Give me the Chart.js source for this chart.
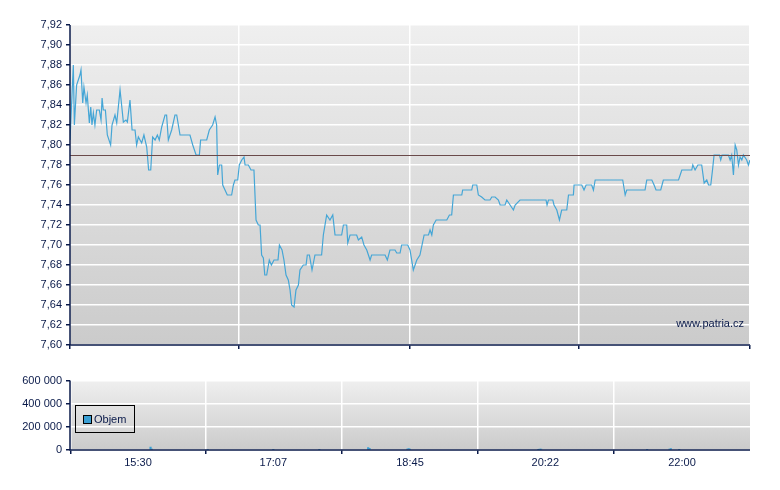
<!DOCTYPE html>
<html><head><meta charset="utf-8">
<script src="https://cdn.jsdelivr.net/npm/chart.js@4"></script>
<style>
body{margin:0;width:780px;height:490px;background:#fff;position:relative;overflow:hidden;font-family:"Liberation Sans",Arial,sans-serif}
#leg{position:absolute;left:75px;top:405px;width:60px;height:28px;border:1px solid #000;font-size:11px;color:#0a1a4a;box-sizing:border-box;z-index:2}
#leg span{position:absolute;left:7px;top:9px;width:7px;height:7px;background:#3a9fd4;border:1px solid #000}
#leg b{font-weight:normal;position:absolute;left:18px;top:7px}
</style></head><body>
<div style="position:absolute;left:0;top:0;width:780px;height:360px"><canvas id="c1"></canvas></div>
<div style="position:absolute;left:0;top:370px;width:780px;height:120px"><canvas id="c2"></canvas></div>
<div id="leg"><span></span><b>Objem</b></div>
<script>
// minutes since 15:30
const priceTimes=[0,1.9,2.5,3.8,5.7,6.3,7.3,8.0,9.2,9.9,11.1,11.9,12.6,13.4,14.3,15.3,16.8,17.8,18.4,19.1,20.3,21.4,23.3,24.1,25.8,26.8,28.7,29.6,30.6,32.1,32.9,34.4,35.6,37.3,38.2,39.2,41.1,42.4,44.0,45.1,46.3,47.4,48.8,50.1,51.2,52.6,54.5,55.4,56.4,58.3,60.2,61.2,63.1,68.8,70.4,72.3,74.2,74.9,78.4,79.9,81.8,83.2,84.1,84.7,85.7,87.0,87.6,88.9,90.2,92.7,93.7,94.6,96.2,97.1,98.5,99.8,100.4,102.3,103.8,105.5,106.7,108.0,109.0,109.9,110.9,111.7,112.8,114.3,115.5,117.0,119.3,120.1,121.6,122.7,123.9,125.2,126.2,127.1,128.5,129.6,131.0,131.9,133.8,135.4,136.1,137.3,138.8,140.5,141.9,144.3,145.3,147.2,149.1,150.7,152.0,155.8,156.8,158.7,159.3,160.6,164.4,165.4,167.3,168.6,170.2,172.1,173.0,180.7,182.0,183.5,186.4,187.4,189.3,190.2,193.7,195.0,196.9,198.9,200.7,203.1,205.6,206.5,207.5,208.4,210,216.1,217.6,218.9,219.9,224.7,225.2,230.4,231,233.3,234.2,236.1,238,240.9,241.9,243.8,245.7,246.7,249.5,250.5,252.4,254.3,255.3,258.1,273,273.6,274.4,276.9,277.6,279.2,280.7,282,284.9,285.9,288.7,289.1,293.5,294.8,296,299.2,300.2,301.2,317,318.4,319.3,329.8,330.8,333.7,335,336.1,338.8,340.3,349,350.9,356.6,357.2,358.5,360.1,362.3,363.7,365.2,366.2,367.5,368.5,369.4,372.5,373.2,374,377.6,378.6,379.5,380.5,381.5,382.4,383.4,384.3,385.3,386.2,388.1,389.1,390];
const priceValues=[7.805,7.88,7.82,7.86,7.87,7.875,7.842,7.858,7.842,7.85,7.822,7.838,7.82,7.832,7.82,7.835,7.835,7.825,7.847,7.835,7.835,7.81,7.80,7.82,7.83,7.822,7.855,7.84,7.823,7.825,7.823,7.845,7.815,7.815,7.80,7.808,7.802,7.81,7.798,7.775,7.775,7.808,7.805,7.81,7.805,7.818,7.83,7.83,7.805,7.815,7.83,7.83,7.81,7.81,7.80,7.79,7.79,7.805,7.805,7.815,7.82,7.828,7.82,7.77,7.78,7.78,7.76,7.755,7.75,7.75,7.76,7.765,7.765,7.78,7.785,7.788,7.78,7.78,7.775,7.775,7.725,7.72,7.72,7.69,7.687,7.67,7.67,7.685,7.68,7.685,7.685,7.70,7.695,7.685,7.67,7.665,7.655,7.64,7.638,7.655,7.66,7.675,7.68,7.68,7.69,7.69,7.675,7.69,7.69,7.69,7.71,7.73,7.725,7.73,7.71,7.71,7.72,7.72,7.702,7.71,7.71,7.705,7.708,7.70,7.695,7.685,7.69,7.69,7.685,7.695,7.695,7.692,7.692,7.70,7.70,7.695,7.675,7.685,7.69,7.71,7.71,7.715,7.71,7.72,7.725,7.725,7.73,7.73,7.75,7.75,7.755,7.755,7.76,7.76,7.75,7.748,7.745,7.745,7.748,7.748,7.745,7.74,7.74,7.745,7.74,7.735,7.74,7.745,7.745,7.74,7.745,7.745,7.74,7.735,7.725,7.735,7.735,7.75,7.75,7.76,7.76,7.755,7.76,7.76,7.755,7.765,7.765,7.75,7.755,7.755,7.765,7.765,7.76,7.755,7.755,7.765,7.765,7.775,7.775,7.78,7.775,7.78,7.78,7.762,7.765,7.76,7.76,7.775,7.79,7.79,7.785,7.79,7.79,7.785,7.79,7.77,7.80,7.795,7.78,7.788,7.785,7.79,7.785,7.78,7.785];
const refPrice=7.79;
const volTimes=[9,10,50,97,130,165,166,193,194,195,287,288,289,365,381,382,388];
const volValues=[25000,8000,5000,4000,6000,22000,15000,9000,12000,8000,6000,9000,7000,5000,8000,12000,6000];
const timeTicks=[0,97,195,292,390];
const timeLabels=["15:30","17:07","18:45","20:22","22:00"];
const priceTicks=[7.60,7.62,7.64,7.66,7.68,7.70,7.72,7.74,7.76,7.78,7.80,7.82,7.84,7.86,7.88,7.90,7.92];
const volTicks=[0,200000,400000,600000];

const INK="#0a1a4a", FONT={family:"Liberation Sans",size:11};
const bgPlugin={id:"bg",beforeDraw(c){const a=c.chartArea,x=c.ctx;const g=x.createLinearGradient(0,a.top,0,a.bottom);g.addColorStop(0,"#efefef");g.addColorStop(1,"#cbcbcb");x.save();x.fillStyle=g;x.fillRect(a.left,a.top,a.right-a.left,a.bottom-a.top);x.restore();}};
const axisLine={id:"al",afterDraw(c){const a=c.chartArea,x=c.ctx;x.save();x.strokeStyle="#0a1a4a";x.lineWidth=1.5;x.beginPath();x.moveTo(a.left,a.top);x.lineTo(a.left,a.bottom);x.lineTo(a.right,a.bottom);x.stroke();x.restore();}};
const refPlugin={id:"ref",afterDatasetsDraw(c){const a=c.chartArea,x=c.ctx,y=c.scales.y.getPixelForValue(refPrice);x.save();x.strokeStyle="#6a4a4a";x.lineWidth=1;x.beginPath();x.moveTo(a.left,Math.round(y)+0.5);x.lineTo(a.right,Math.round(y)+0.5);x.stroke();
 x.fillStyle=INK;x.font="11px 'Liberation Sans'";x.textAlign="right";x.fillText("www.patria.cz",a.right-6,a.bottom-18);x.restore();}};

const xCommon=(show)=>({type:"linear",min:0,max:390,afterBuildTicks(s){s.ticks=timeTicks.map(v=>({value:v}));},
 ticks:{display:show,color:INK,font:FONT,maxRotation:0,autoSkip:false,padding:2,callback:(v)=>timeLabels[timeTicks.indexOf(v)]},
 grid:{color:"#ffffff",lineWidth:1.5,tickLength:4,tickColor:INK},border:{display:false},
 afterFit(s){s.height=show?40:15;}});

new Chart(document.getElementById("c1"),{type:"line",
 data:{datasets:[{data:priceTimes.map((t,i)=>({x:t,y:priceValues[i]})),borderColor:"#45a6d6",borderWidth:1.2,pointRadius:0,tension:0}]},
 options:{responsive:true,maintainAspectRatio:false,animation:false,layout:{padding:{top:25,right:30,left:0,bottom:0}},
 plugins:{legend:{display:false},tooltip:{enabled:false}},
 scales:{x:xCommon(false),
  y:{min:7.60,max:7.92,afterBuildTicks(s){s.ticks=priceTicks.map(v=>({value:v}));},
   ticks:{color:INK,font:FONT,padding:4,callback:v=>v.toFixed(2).replace(".",",")},
   grid:{color:"#ffffff",lineWidth:1.5,tickLength:4,tickColor:INK},border:{display:false},afterFit(s){s.width=70;}}}},
 plugins:[bgPlugin,refPlugin,axisLine]});

new Chart(document.getElementById("c2"),{type:"bar",
 data:{datasets:[{data:volTimes.map((t,i)=>({x:t,y:volValues[i]})),backgroundColor:"#3a9fd4",barThickness:1.5}]},
 options:{responsive:true,maintainAspectRatio:false,animation:false,layout:{padding:{top:10,right:30,left:0,bottom:0}},
 plugins:{legend:{display:false},tooltip:{enabled:false}},
 scales:{x:xCommon(true),
  y:{min:0,max:600000,afterBuildTicks(s){s.ticks=volTicks.map(v=>({value:v}));},
   ticks:{color:INK,font:FONT,padding:4,callback:v=>String(v).replace(/\B(?=(\d{3})+(?!\d))/g," ")},
   grid:{color:"#ffffff",lineWidth:1.5,tickLength:4,tickColor:INK},border:{display:false},afterFit(s){s.width=70;}}}},
 plugins:[bgPlugin,axisLine]});
</script></body></html>
